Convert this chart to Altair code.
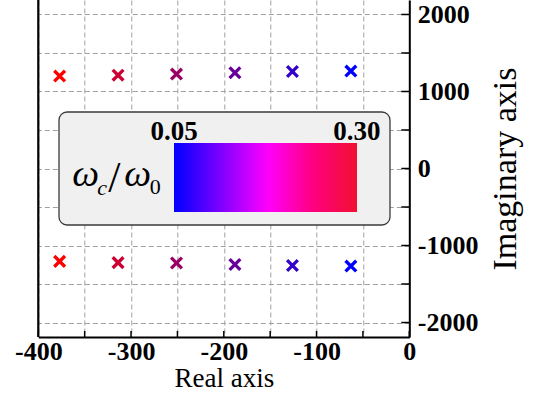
import altair as alt
import pandas as pd

# ---- data ----
ratio = [0.30, 0.25, 0.20, 0.15, 0.10, 0.05]
real_part = [-377, -314, -251, -188, -126, -63]
imag_upper = [1200, 1212, 1226, 1243, 1259, 1265]
imag_lower = [-1206, -1222, -1228, -1246, -1259, -1267]

x_ticks = list(range(-400, 1, 50))
y_ticks = list(range(-2000, 2001, 500))
legend_values = [0.05, 0.30]
gradient_domain = [0.0499, 0.08, 0.115, 0.177, 0.24, 0.3001]
gradient_colors = ["#0000ff", "#3a00ff", "#8000ff", "#ff00ff", "#ff0080", "#f01030"]
point_colors = ["#0000ff", "#ff0000"]

poles = pd.DataFrame({
    "ratio": ratio + ratio,
    "re": real_part + real_part,
    "im": imag_upper + imag_lower,
})

W, H = 371, 337
FONT = "Liberation Serif"

x_scale = alt.Scale(domain=[-400, 0], nice=False, zero=False)
y_scale = alt.Scale(domain=[-2188, 2188], nice=False, zero=False)

grid_style = dict(grid=True, gridColor="#a0a0a0", gridDash=[5, 3], gridWidth=1,
                  ticks=False, domain=True, domainColor="black", domainWidth=2,
                  labelFont=FONT, labelFontSize=26, labelFontWeight="bold",
                  labelColor="black", labelFlush=False, labelOverlap=False,
                  titleFont=FONT, titleFontWeight="normal", titleColor="black",
                  titleBaseline="alphabetic")

x_axis = alt.Axis(values=x_ticks, title="Real axis",
                  labelExpr="datum.value % 100 == 0 ? toString(datum.value) : ''",
                  labelPadding=1, titleFontSize=27, titleY=49, **grid_style)
y_axis = alt.Axis(values=y_ticks, title="Imaginary axis", orient="right",
                  labelExpr="datum.value % 1000 == 0 ? toString(datum.value) : ''",
                  labelPadding=8, labelBaseline="middle", titleFontSize=34,
                  titleAngle=270, titleX=106, titleY=H / 2, titleAlign="center",
                  **grid_style)

X = alt.X("re:Q", scale=x_scale, axis=x_axis)
Y = alt.Y("im:Q", scale=y_scale, axis=y_axis)

one = alt.Data(values=[{"k": 0}])

box = alt.Chart(one).mark_rect(fill="#f0f0f0", stroke="#3a3a3a", strokeWidth=1.3,
                               cornerRadius=8).encode(
    x=alt.value(20.7), x2=alt.value(351.7), y=alt.value(112), y2=alt.value(225))

legend_layer = alt.Chart(poles).mark_point(size=0, filled=True, opacity=1).encode(
    x=X, y=Y,
    fill=alt.Fill("ratio:Q",
                  scale=alt.Scale(domain=gradient_domain, range=gradient_colors, interpolate="rgb"),
                  legend=alt.Legend(orient="none", legendX=135.7, legendY=143,
                                    direction="horizontal", gradientLength=183,
                                    gradientThickness=69, title=None,
                                    values=legend_values, format=".2f",
                                    labelFont=FONT, labelFontSize=27,
                                    labelFontWeight="bold", labelColor="black",
                                    labelOffset={"expr": "-93"}, labelAlign="center",
                                    padding=0, gradientStrokeWidth=0,
                                    gradientOpacity=1, labelOverlap=False)))

points = alt.Chart(poles).mark_point(shape="M-1,-1L1,1M-1,1L1,-1", size=115,
                                     strokeWidth=3.3, filled=False, opacity=1).encode(
    x=X, y=Y,
    color=alt.Color("ratio:Q",
                    scale=alt.Scale(domain=[0.05, 0.30], range=point_colors, interpolate="rgb"),
                    legend=None))


def label(txt, px, py, size, style="italic"):
    return alt.Chart(one).mark_text(text=txt, font=FONT, fontSize=size, fontStyle=style,
                                    align="left", baseline="alphabetic",
                                    color="black").encode(x=alt.value(px), y=alt.value(py))


title_parts = [
    label("ω", 34, 186, 38),
    label("c", 59, 195, 22),
    label("/", 70, 192, 44, "normal"),
    label("ω", 86, 186, 38),
    label("0", 111.5, 194, 22, "normal"),
]

right_ticks = alt.Chart(pd.DataFrame({"im": y_ticks})).mark_rule(
    color="black", strokeWidth=1.5).encode(y=Y, x=alt.value(W - 8), x2=alt.value(W))
bottom_ticks = alt.Chart(pd.DataFrame({"re": x_ticks})).mark_rule(
    color="black", strokeWidth=1.5).encode(x=X, y=alt.value(H - 6), y2=alt.value(H))
left_border = alt.Chart(one).mark_rule(color="black", strokeWidth=2.2).encode(
    x=alt.value(0), y=alt.value(0), y2=alt.value(H))

chart = alt.layer(
    box, legend_layer, points, *title_parts, right_ticks, bottom_ticks, left_border
).properties(
    width=W, height=H,
    padding={"left": 38.3, "top": 0, "right": 537 - 38.3 - W, "bottom": 398 - H},
    autosize=alt.AutoSizeParams(type="none"),
    background="white",
).configure_view(strokeWidth=0)

chart.save("out.html", embed_options={"renderer": "svg", "actions": False})
